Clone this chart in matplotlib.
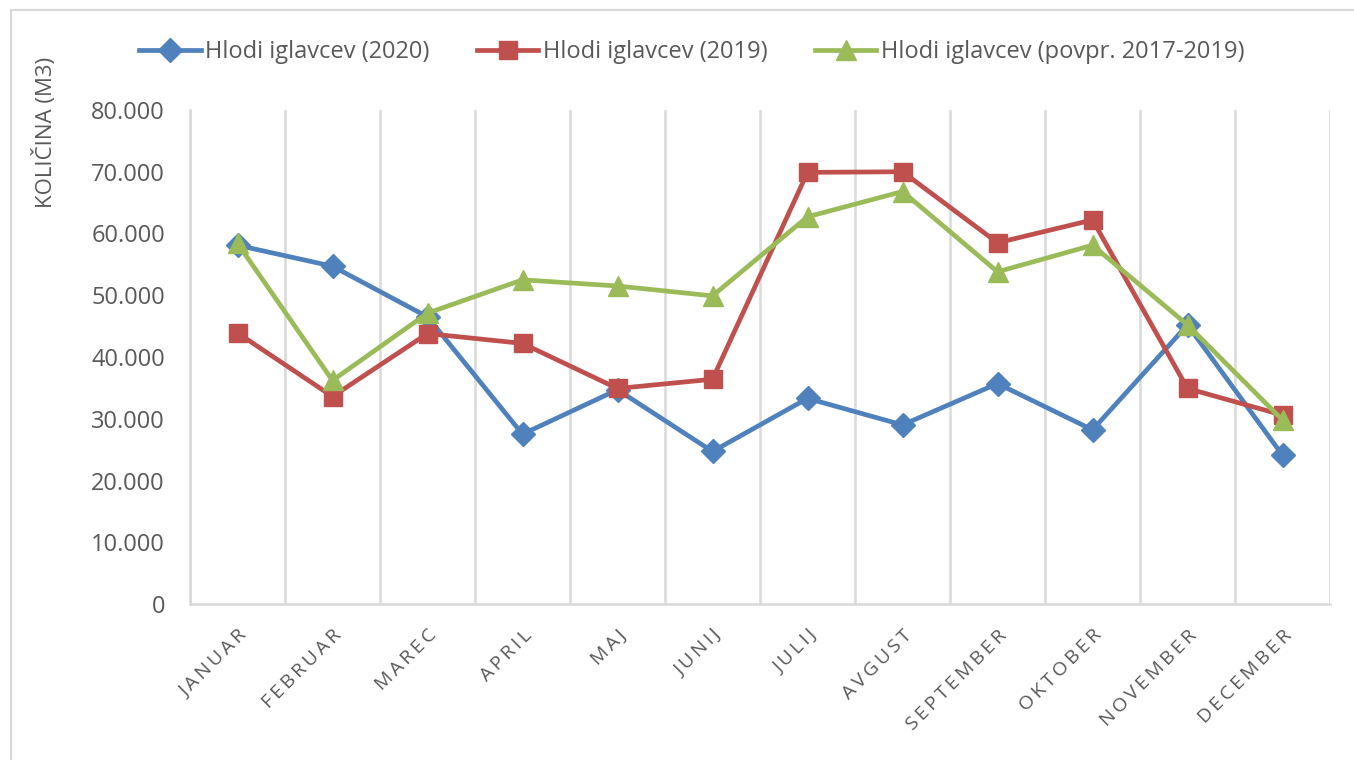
import matplotlib
matplotlib.use("Agg")
import matplotlib.pyplot as plt
from matplotlib.patches import Rectangle
from matplotlib.ticker import FuncFormatter

months = ["JANUAR", "FEBRUAR", "MAREC", "APRIL", "MAJ", "JUNIJ", "JULIJ",
          "AVGUST", "SEPTEMBER", "OKTOBER", "NOVEMBER", "DECEMBER"]
s2020 = [58100, 54700, 46500, 27500, 34700, 24700, 33300, 29000, 35700, 28200, 45200, 24100]
s2019 = [43900, 33600, 43800, 42200, 34900, 36400, 69900, 70000, 58500, 62200, 34900, 30600]
savg = [58400, 36200, 47100, 52500, 51500, 49900, 62700, 66800, 53800, 58100, 45200, 29800]
labels = ["Hlodi iglavcev (2020)", "Hlodi iglavcev (2019)", "Hlodi iglavcev (povpr. 2017-2019)"]
yticks = list(range(0, 80001, 10000))

plt.rcParams['font.family'] = ['Open Sans', 'DejaVu Sans']
W, H = 1354, 760
fig = plt.figure(figsize=(W/100, H/100), dpi=100)
ax = fig.add_axes([190/W, 1-604/H, (1330-190)/W, (604-110)/H])

# chart border
fig.patches.append(Rectangle((11/W, -0.01), 1.0, 1 - 10/H + 0.01, transform=fig.transFigure,
                             fill=False, edgecolor='#d9d9d9', linewidth=1.5))

x = list(range(1, len(months)+1))
ax.plot(x, s2020, color='#4F81BD', lw=3.4, marker='D', ms=12, label=labels[0], zorder=3)
ax.plot(x, s2019, color='#C0504D', lw=3.4, marker='s', ms=12.5, label=labels[1], zorder=4)
ax.plot(x, savg, color='#9BBB59', lw=3.4, marker='^', ms=15, label=labels[2], zorder=5)

ax.set_xlim(0.5, len(months)+0.5)
ax.set_ylim(0, 80000)
ax.set_yticks(yticks)
ax.yaxis.set_major_formatter(FuncFormatter(lambda v, p: "0" if v == 0 else f"{int(v):,}".replace(",", ".")))
for b in range(0, len(months)+1):
    ax.axvline(b + 0.5, color='#d9d9d9', lw=1.8, zorder=1)
for s in ['top', 'right']:
    ax.spines[s].set_visible(False)
for s in ['left', 'bottom']:
    ax.spines[s].set_color('#d9d9d9')
    ax.spines[s].set_linewidth(1.8)
ax.tick_params(axis='y', length=0, pad=18, labelsize=17, labelcolor='#595959')
ax.tick_params(axis='x', length=0, pad=16, labelsize=14, labelcolor='#595959')
ax.set_xticks(x)
spaced = ["\u2009".join(m) for m in months]
ax.set_xticklabels(spaced, rotation=45, ha='right', rotation_mode='anchor')

fig.text(45/W, 1-132/H, "KOLIČINA (M3)", rotation=90, ha='center', va='center',
         fontsize=16, color='#595959')

leg = fig.legend(loc='center', bbox_to_anchor=(692/W, 1-52/H), ncol=3, frameon=False,
                 fontsize=17, handlelength=2.6, columnspacing=2.0, handletextpad=0.2)
for t in leg.get_texts():
    t.set_color('#595959')

fig.savefig("out.png", dpi=100)
